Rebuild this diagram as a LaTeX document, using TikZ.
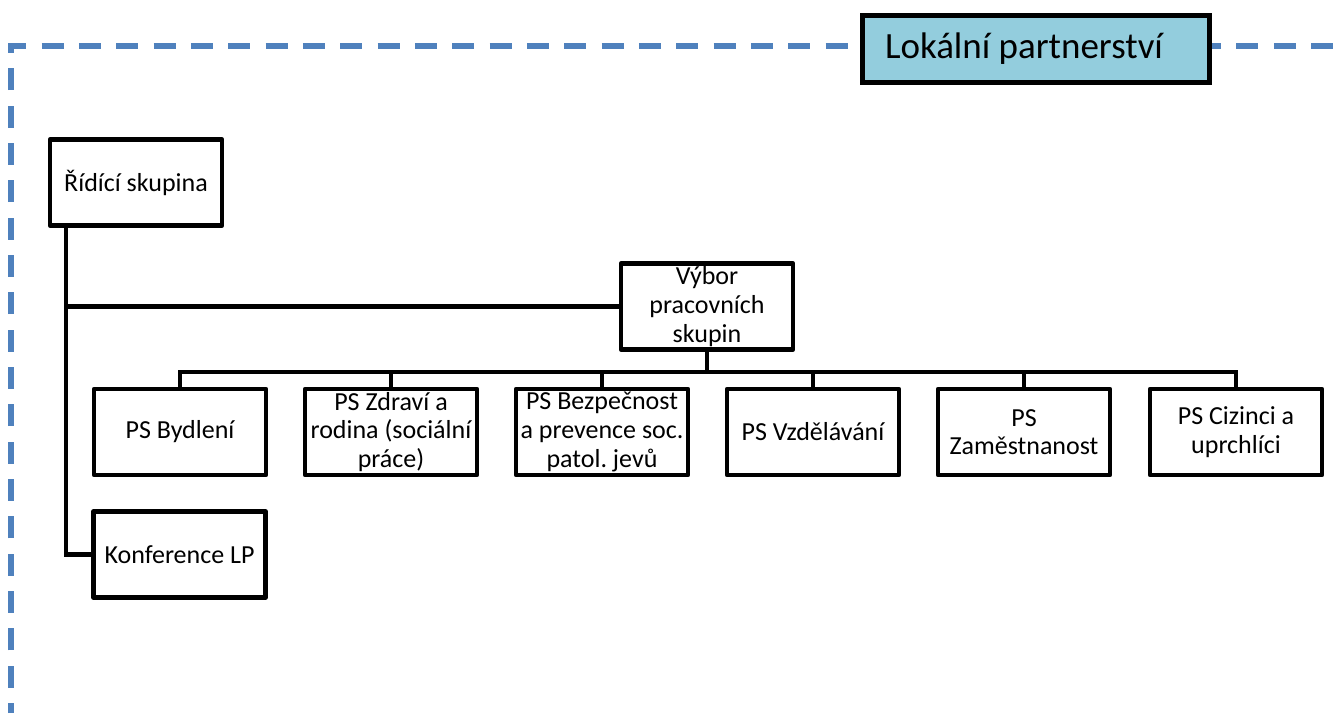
\documentclass[tikz,border=0pt]{standalone}
\usepackage{fontspec}
\setmainfont{Carlito}
\frenchspacing

\definecolor{frameblue}{RGB}{79,129,189}
\definecolor{lpcyan}{RGB}{147,205,221}

\tikzset{
  orgbox/.style={draw, line width=2.3pt, line join=round, minimum width=86pt, minimum height=43pt, inner sep=0pt, align=center, font=\fontsize{13}{14.3}\selectfont},
  lpbox/.style={draw, fill=lpcyan, line width=2.3pt, minimum height=33.7pt, text width=151pt, inner xsep=11.35pt, inner ysep=0pt, align=flush left, font=\fontsize{18.5}{22}\selectfont},
  link/.style={line width=2.3pt},
  frame/.style={draw=frameblue, line width=2.6pt, dash pattern=on 11pt off 7.67pt}
}

\begin{document}
\begin{tikzpicture}[x=0.5pt,y=-0.5pt]
\useasboundingbox (0,0) rectangle (1339,713);

\draw[frame, dash phase=5.97pt] (11,713) -- (11,46) -- (1339,46);

\node[lpbox] (lp) at (1036,49) {Lokální partnerství};

\node[orgbox] (rid) at (136,182.5) {Řídící skupina};
\node[orgbox] (vybor) at (707,306.5) {Výbor\\pracovních\\skupin};
\node[orgbox] (konf) at (179.5,554.5) {Konference LP};

\node[orgbox] (ps1) at (180,432) {PS Bydlení};
\node[orgbox] (ps2) at (391,432) {PS Zdraví a\\rodina (sociální\\práce)};
\node[orgbox] (ps3) at (602,432) {PS Bezpečnost\\a prevence soc.\\patol. jevů};
\node[orgbox] (ps4) at (813,432) {PS Vzdělávání};
\node[orgbox] (ps5) at (1024,432) {PS\\Zaměstnanost};
\node[orgbox] (ps6) at (1236,432) {PS Cizinci a\\uprchlíci};

\coordinate (trunk) at (66,0);
\coordinate (bus) at (0,372);

\draw[link] (rid.south -| trunk) |- (konf.west);
\draw[link] (vybor.west -| trunk) -- (vybor.west);
\draw[link] (vybor.south) -- (vybor.south |- bus);
\draw[link] (ps1.north) -- (ps1.north |- bus) -- (ps6.north |- bus) -- (ps6.north);
\foreach \n in {ps2,ps3,ps4,ps5}
  \draw[link] (\n.north) -- (\n.north |- bus);

\end{tikzpicture}
\end{document}
